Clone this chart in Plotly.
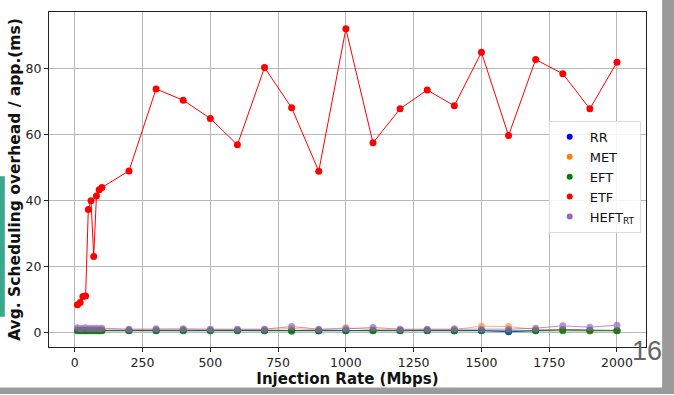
import plotly.graph_objects as go

x = [10, 20, 30, 40, 50, 60, 70, 80, 90, 100, 200, 300, 400, 500, 600, 700, 800, 900,
     1000, 1100, 1200, 1300, 1400, 1500, 1600, 1700, 1800, 1900, 2000]

etf = [8.5, 9.2, 11.0, 11.1, 37.3, 40.0, 23.1, 41.4, 43.3, 44.0, 49.0, 73.8, 70.4, 64.9,
       56.9, 80.3, 68.1, 48.9, 92.0, 57.5, 67.8, 73.5, 68.7, 84.9, 59.7, 82.7, 78.4, 67.8, 81.9]
rr = [0.8, 0.7, 0.8, 0.7, 0.8, 0.7, 0.8, 0.7, 0.8, 0.7, 0.7, 0.7, 0.8, 0.7, 0.7, 0.7, 0.8, 0.6,
      0.7, 0.7, 0.7, 0.7, 0.6, 0.7, 0.3, 0.7, 1.0, 0.8, 0.7]
met = [1.0, 0.9, 1.0, 0.9, 1.0, 0.9, 1.0, 0.9, 1.0, 0.9, 0.9, 0.9, 1.0, 0.9, 0.9, 1.0, 1.3, 0.9,
       1.5, 1.0, 0.9, 1.0, 1.0, 2.0, 1.9, 1.0, 1.0, 0.6, 0.8]
eft = [0.6, 0.6, 0.6, 0.6, 0.6, 0.6, 0.6, 0.6, 0.6, 0.6, 0.6, 0.6, 0.6, 0.6, 0.6, 0.6, 0.5, 0.6,
       0.6, 0.6, 0.6, 0.6, 0.6, 0.6, 0.6, 0.6, 0.6, 0.6, 0.6]
heft = [1.5, 1.3, 1.4, 1.5, 1.3, 1.4, 1.3, 1.4, 1.3, 1.4, 1.1, 1.2, 1.2, 1.1, 1.1, 1.1, 1.9, 1.1,
        1.2, 1.6, 1.1, 1.1, 1.2, 1.1, 1.1, 1.4, 2.1, 1.7, 2.3]

series = [
    ("RR", rr, "#0000ff", 0.8),
    ("MET", met, "#ff7f0e", 0.6),
    ("EFT", eft, "#008000", 0.8),
    ("ETF", etf, "#ff0000", 1.0),
    ("HEFT<sub>RT</sub>", heft, "#9467bd", 0.7),
]

fig = go.Figure()
for name, y, c, op in series:
    fig.add_trace(go.Scatter(x=x, y=y, mode="lines+markers", name=name, showlegend=False,
                             line=dict(color=c, width=1), marker=dict(color=c, size=7),
                             opacity=op))
for name, y, c, op in series:
    fig.add_trace(go.Scatter(x=[None], y=[None], mode="markers", name=name,
                             marker=dict(color=c, size=6)))

font = "DejaVu Sans"
fig.update_layout(
    width=674, height=395,
    margin=dict(l=49, r=28, t=11, b=45),
    paper_bgcolor="white", plot_bgcolor="white",
    font=dict(family=font, size=12.5, color="#222"),
    legend=dict(x=0.837, y=0.675, xanchor="left", yanchor="top",
                bgcolor="rgba(255,255,255,0.85)", bordercolor="#dddddd", borderwidth=1,
                font=dict(size=13, family=font, color="#111"), itemwidth=30,
                tracegroupgap=2),
    xaxis=dict(range=[-95, 2107], tickvals=[0, 250, 500, 750, 1000, 1250, 1500, 1750, 2000],
               showgrid=True, gridcolor="#b8b8b8", gridwidth=1, zeroline=False,
               showline=True, linecolor="#222", linewidth=1, mirror=True,
               ticks="outside", ticklen=4, tickcolor="#222",
               title=dict(text="<b>Injection Rate (Mbps)</b>", font=dict(size=15, family=font, color="#111"), standoff=3)),
    yaxis=dict(range=[-4.3, 97.1], tickvals=[0, 20, 40, 60, 80],
               showgrid=True, gridcolor="#b8b8b8", gridwidth=1, zeroline=False,
               showline=True, linecolor="#222", linewidth=1, mirror=True,
               ticks="outside", ticklen=4, tickcolor="#222",
               title=dict(text="<b>Avg. Scheduling overhead / app.(ms)</b>", font=dict(size=15.5, family=font, color="#111"), standoff=1)),
    shapes=[
        dict(type="rect", xref="paper", yref="paper", x0=1.027, x1=1.06, y0=-0.14, y1=1.05,
             fillcolor="#9a9a9a", line=dict(width=0), layer="below"),
        dict(type="rect", xref="paper", yref="paper", x0=-0.1, x1=1.06, y0=-0.14, y1=-0.121,
             fillcolor="#9a9a9a", line=dict(width=0), layer="below"),
        dict(type="rect", xref="paper", yref="paper", x0=-0.09, x1=-0.074, y0=0.09, y1=0.51,
             fillcolor="#3aa88f", line=dict(width=0), layer="below"),
    ],
    annotations=[dict(text="16", xref="paper", yref="paper", x=1.002, y=-0.012,
                      xanchor="center", yanchor="middle", showarrow=False,
                      font=dict(size=27, color="#666", family="Liberation Sans"))],
)

fig.write_html("out.html")
